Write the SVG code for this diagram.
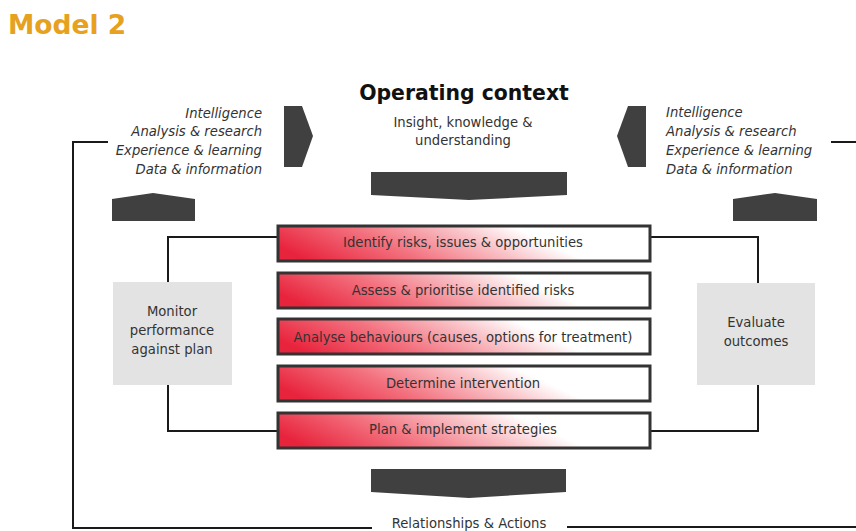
<svg xmlns="http://www.w3.org/2000/svg" width="856" height="531" viewBox="0 0 856 531">
<style>
.t{font-family:"DejaVu Sans",Verdana,sans-serif;fill:#333;font-size:13.2px}
.it{font-family:"DejaVu Sans",Verdana,sans-serif;fill:#333;font-size:13.2px;font-style:italic}
.c{text-anchor:middle}
.box{fill:url(#g);stroke:#333;stroke-width:3}
.grey{fill:#e3e3e3}
.dark{fill:#404040}
.ln{fill:none;stroke:#1a1a1a;stroke-width:2}
</style>
<defs>
<linearGradient id="g" x1="0" y1="0.6" x2="1" y2="0.4">
<stop offset="0" stop-color="#e8233c"/>
<stop offset="0.3" stop-color="#f3727f"/>
<stop offset="0.55" stop-color="#f9c3c8"/>
<stop offset="0.72" stop-color="#ffffff"/>
</linearGradient>
</defs>
<rect width="856" height="531" fill="#fff"/>
<text x="8" y="34" font-family="DejaVu Sans,Verdana,sans-serif" font-weight="bold" font-size="26.5" fill="#e6a11e">Model 2</text>
<g id="connectors">
<path class="ln" d="M108 142 H73 V528 H372"/>
<path class="ln" d="M567 527 H856"/>
<path class="ln" d="M831 142 H856"/>
<path class="ln" d="M277 237 H168 V282"/>
<path class="ln" d="M168 385 V431 H277"/>
<path class="ln" d="M650 237 H758 V283"/>
<path class="ln" d="M758 385 V431 H650"/>
</g>
<g id="context">
<text x="464" y="100" class="c" font-family="DejaVu Sans,Verdana,sans-serif" font-weight="bold" font-size="20.4" fill="#111">Operating context</text>
<text x="463" y="127" class="t c">Insight, knowledge &amp;</text>
<text x="463" y="145" class="t c">understanding</text>
<polygon class="dark" points="371,172 567,172 567,195 469,200 371,195"/>
</g>
<g id="left-inputs">
<text class="it" text-anchor="end"><tspan x="262" y="118">Intelligence</tspan><tspan x="262" y="136">Analysis &amp; research</tspan><tspan x="262" y="155">Experience &amp; learning</tspan><tspan x="262" y="174">Data &amp; information</tspan></text>
<polygon class="dark" points="284,106 302,106 313,136 302,167 284,167"/>
<polygon class="dark" points="112,199 153,193 195,199 195,221 112,221"/>
</g>
<g id="right-inputs">
<text class="it"><tspan x="666" y="117">Intelligence</tspan><tspan x="666" y="136">Analysis &amp; research</tspan><tspan x="666" y="155">Experience &amp; learning</tspan><tspan x="666" y="174">Data &amp; information</tspan></text>
<polygon class="dark" points="646,106 628,106 617,136 628,167 646,167"/>
<polygon class="dark" points="733,199 775,193 817,199 817,221 733,221"/>
</g>
<g id="step1"><rect class="box" x="278" y="226" width="372" height="35"/><text x="463" y="247" class="t c">Identify risks, issues &amp; opportunities</text></g>
<g id="step2"><rect class="box" x="278" y="273" width="372" height="35"/><text x="463" y="295" class="t c">Assess &amp; prioritise identified risks</text></g>
<g id="step3"><rect class="box" x="278" y="319" width="372" height="35"/><text x="463" y="342" class="t c">Analyse behaviours (causes, options for treatment)</text></g>
<g id="step4"><rect class="box" x="278" y="366" width="372" height="35"/><text x="463" y="388" class="t c">Determine intervention</text></g>
<g id="step5"><rect class="box" x="278" y="413" width="372" height="35"/><text x="463" y="434" class="t c">Plan &amp; implement strategies</text></g>
<g id="monitor"><rect class="grey" x="113" y="282" width="119" height="103"/><text class="t c"><tspan x="172" y="316">Monitor</tspan><tspan x="172" y="335">performance</tspan><tspan x="172" y="354">against plan</tspan></text></g>
<g id="evaluate"><rect class="grey" x="697" y="283" width="118" height="102"/><text class="t c"><tspan x="756" y="327">Evaluate</tspan><tspan x="756" y="346">outcomes</tspan></text></g>
<g id="relationships">
<polygon class="dark" points="371,469 566,469 566,492 469,498 371,492"/>
<text x="469" y="528" class="t c">Relationships &amp; Actions</text>
</g>
</svg>
